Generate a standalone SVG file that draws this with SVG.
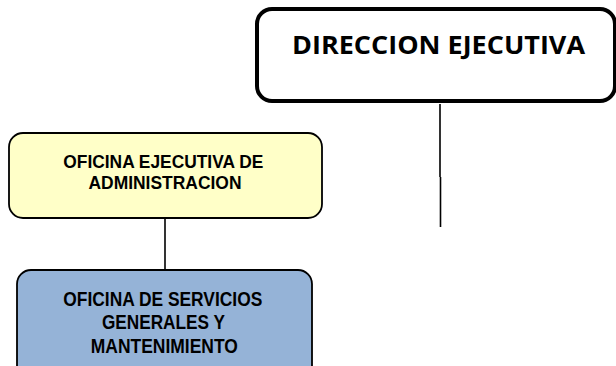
<svg xmlns="http://www.w3.org/2000/svg" width="616" height="366" viewBox="0 0 616 366">
<style>
.box{stroke:#000;}
.t{font-family:"Liberation Sans",Arial,sans-serif;font-weight:bold;font-size:20px;text-anchor:middle;fill:#000;}
.ty{font-size:18.5px;}
.big{font-family:"Open Sans","Liberation Sans",sans-serif;font-weight:bold;font-size:25px;text-anchor:middle;fill:#000;}
.c{stroke:#000;stroke-width:1.6;fill:none;}
</style>
<rect width="616" height="366" fill="#fff"/>
<g id="connectors">
<path class="c" d="M440,104 V177 M440.5,177 V227"/>
<path class="c" d="M165,218 V269"/>
</g>
<g id="direccion">
<rect class="box" x="257" y="9" width="358" height="92" rx="15" fill="#fff" stroke-width="4"/>
<text class="big" x="438.5" y="54" textLength="293" lengthAdjust="spacingAndGlyphs">DIRECCION EJECUTIVA</text>
</g>
<g id="oficina-administracion">
<rect class="box" x="9" y="133" width="313" height="85" rx="14" fill="#FFFFC8" stroke-width="1.8"/>
<text class="t ty" x="163.3" y="167.8" textLength="200" lengthAdjust="spacingAndGlyphs">OFICINA EJECUTIVA DE</text>
<text class="t ty" x="165" y="188.8" textLength="153" lengthAdjust="spacingAndGlyphs">ADMINISTRACION</text>
</g>
<g id="oficina-servicios">
<rect class="box" x="17" y="270" width="295" height="110" rx="14" fill="#95B3D7" stroke-width="1.8"/>
<text class="t" x="162.8" y="306" textLength="199" lengthAdjust="spacingAndGlyphs">OFICINA DE SERVICIOS</text>
<text class="t" x="163.4" y="328.5" textLength="123" lengthAdjust="spacingAndGlyphs">GENERALES Y</text>
<text class="t" x="164.3" y="352.7" textLength="147" lengthAdjust="spacingAndGlyphs">MANTENIMIENTO</text>
</g>
</svg>
